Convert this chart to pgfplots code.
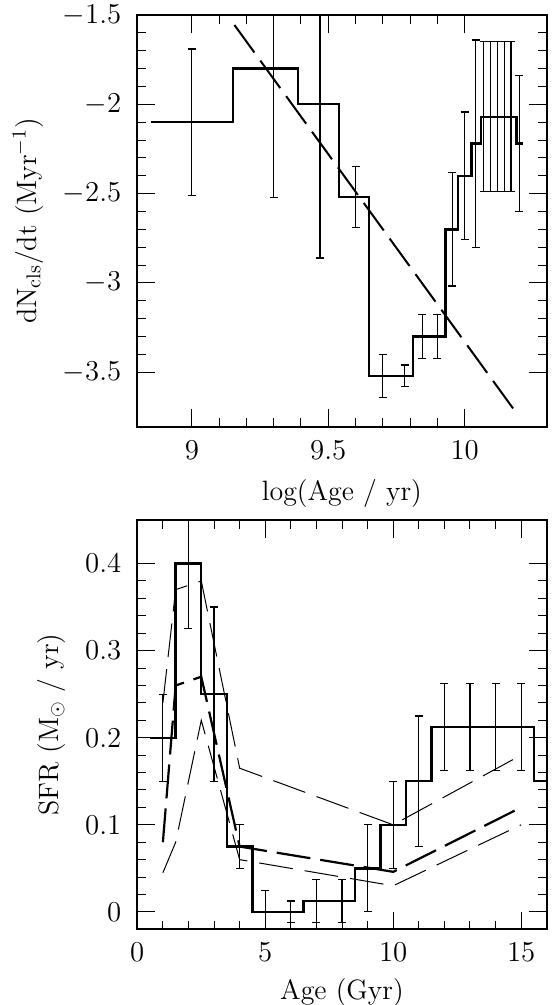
\documentclass[border=0pt]{standalone}
\usepackage{pgfplots}
\pgfplotsset{compat=1.18}

\pgfplotsset{
  panel/.style={
    scale only axis,
    axis line style={line width=1pt},
    tick style={line width=0.5pt, black},
    major tick length=8.8pt,
    minor tick length=4.4pt,
    tick align=inside,
    tick label style={font=\fontsize{13.3}{16}\selectfont},
    label style={font=\fontsize{14}{17}\selectfont},
    xticklabel style={yshift=-3.5pt},
    yticklabel style={xshift=-4.5pt},
    ylabel shift=3pt,
    xlabel shift=3pt,
    clip=true,
  },
  stair/.style={black, line width=1.2pt, mark=none},
  errb/.style={draw=none, mark=none,
    error bars/.cd, y dir=both, y explicit,
    error bar style={draw=black, line width=0.6pt},
    error mark options={rotate=90, draw=black, line width=0.6pt, mark size=2pt}},
}

\begin{document}
\begin{tikzpicture}
\useasboundingbox (0pt,0pt) rectangle (275.5pt,-502.5pt);

% cluster formation rate versus log age
\begin{axis}[panel,
  at={(68.65pt,-213.35pt)}, anchor=south west,
  width=204.6pt, height=205.85pt,
  xmin=8.8, xmax=10.3, ymin=-3.805, ymax=-1.5,
  xtick={9,9.5,10}, ytick={-3.5,-3,-2.5,-2,-1.5},
  minor x tick num=4, minor y tick num=4,
  xlabel={log(Age / yr)},
  ylabel={dN$_{\rm cls}$/dt (Myr$^{-1}$)}]
\addplot[stair] coordinates {
  (8.85,-2.1) (9.15,-2.1) (9.15,-1.8) (9.39,-1.8) (9.39,-2.0) (9.54,-2.0)
  (9.54,-2.52) (9.65,-2.52) (9.65,-3.52) (9.81,-3.52) (9.81,-3.3) (9.93,-3.3)
  (9.93,-2.7) (9.975,-2.7) (9.975,-2.4) (10.025,-2.4) (10.025,-2.22) (10.06,-2.22)
  (10.06,-2.07) (10.19,-2.07) (10.19,-2.22) (10.215,-2.22)};
\addplot[errb] coordinates {
  (9.0,-2.1) +- (0,0.41)
  (9.3,-1.8) +- (0,0.72)
  (9.47,-2.0) +- (0,0.86)
  (9.6,-2.52) +- (0,0.17)
  (9.7,-3.52) +- (0,0.12)
  (9.78,-3.52) +- (0,0.06)
  (9.845,-3.3) +- (0,0.125)
  (9.9,-3.3) +- (0,0.125)
  (9.955,-2.7) +- (0,0.317)
  (10.0,-2.4) +- (0,0.357)
  (10.04,-2.22) +- (0,0.58)
  (10.07,-2.07) +- (0,0.42)
  (10.095,-2.07) +- (0,0.42)
  (10.12,-2.07) +- (0,0.42)
  (10.145,-2.07) +- (0,0.42)
  (10.17,-2.07) +- (0,0.42)
  (10.2,-2.22) +- (0,0.38)};
\addplot[black, line width=1pt, dash pattern=on 17pt off 5pt] coordinates {
  (9.156,-1.556) (10.199,-3.748)};
\end{axis}

% star formation history
\begin{axis}[panel,
  at={(68.65pt,-464.65pt)}, anchor=south west,
  width=204.7pt, height=204.65pt,
  xmin=0, xmax=16, ymin=-0.02, ymax=0.45,
  xtick={0,5,10,15}, ytick={0,0.1,0.2,0.3,0.4},
  minor x tick num=4, minor y tick num=4,
  xlabel shift=1.5pt,
  xlabel={Age (Gyr)},
  ylabel={SFR (M$_\odot$ / yr)}]
\addplot[stair] coordinates {
  (0.5,0.2) (1.5,0.2) (1.5,0.4) (2.5,0.4) (2.5,0.25) (3.5,0.25)
  (3.5,0.075) (4.5,0.075) (4.5,0) (6.5,0) (6.5,0.0125) (8.5,0.0125)
  (8.5,0.05) (9.5,0.05) (9.5,0.1) (10.5,0.1) (10.5,0.15) (11.5,0.15)
  (11.5,0.2125) (15.5,0.2125) (15.5,0.15) (16,0.15)};
\addplot[errb] coordinates {
  (1,0.2) +- (0,0.05)
  (2,0.4) +- (0,0.075)
  (3,0.25) +- (0,0.1)
  (4,0.075) +- (0,0.025)
  (5,0) +- (0,0.025)
  (6,0) +- (0,0.0125)
  (7,0.0125) +- (0,0.025)
  (8,0.0125) +- (0,0.025)
  (9,0.05) +- (0,0.05)
  (10,0.1) +- (0,0.05)
  (11,0.15) +- (0,0.075)
  (12,0.2125) +- (0,0.05)
  (13,0.2125) +- (0,0.05)
  (14,0.2125) +- (0,0.05)
  (15,0.2125) +- (0,0.05)};
% model: best fit and its upper and lower bounds
\addplot[black, line width=1.1pt, dash pattern=on 17pt off 5pt] coordinates {
  (1,0.08) (1.5,0.26) (2.5,0.27) (4,0.075) (10,0.046) (15,0.12)};
\addplot[black, line width=0.5pt, dash pattern=on 17pt off 6pt] coordinates {
  (1,0.24) (1.5,0.37) (2.5,0.38) (4,0.165) (10,0.10) (15,0.18)};
\addplot[black, line width=0.5pt, dash pattern=on 17pt off 6pt] coordinates {
  (1,0.045) (1.5,0.08) (2.5,0.22) (4,0.06) (10,0.03) (15,0.10)};
\end{axis}
\end{tikzpicture}
\end{document}
